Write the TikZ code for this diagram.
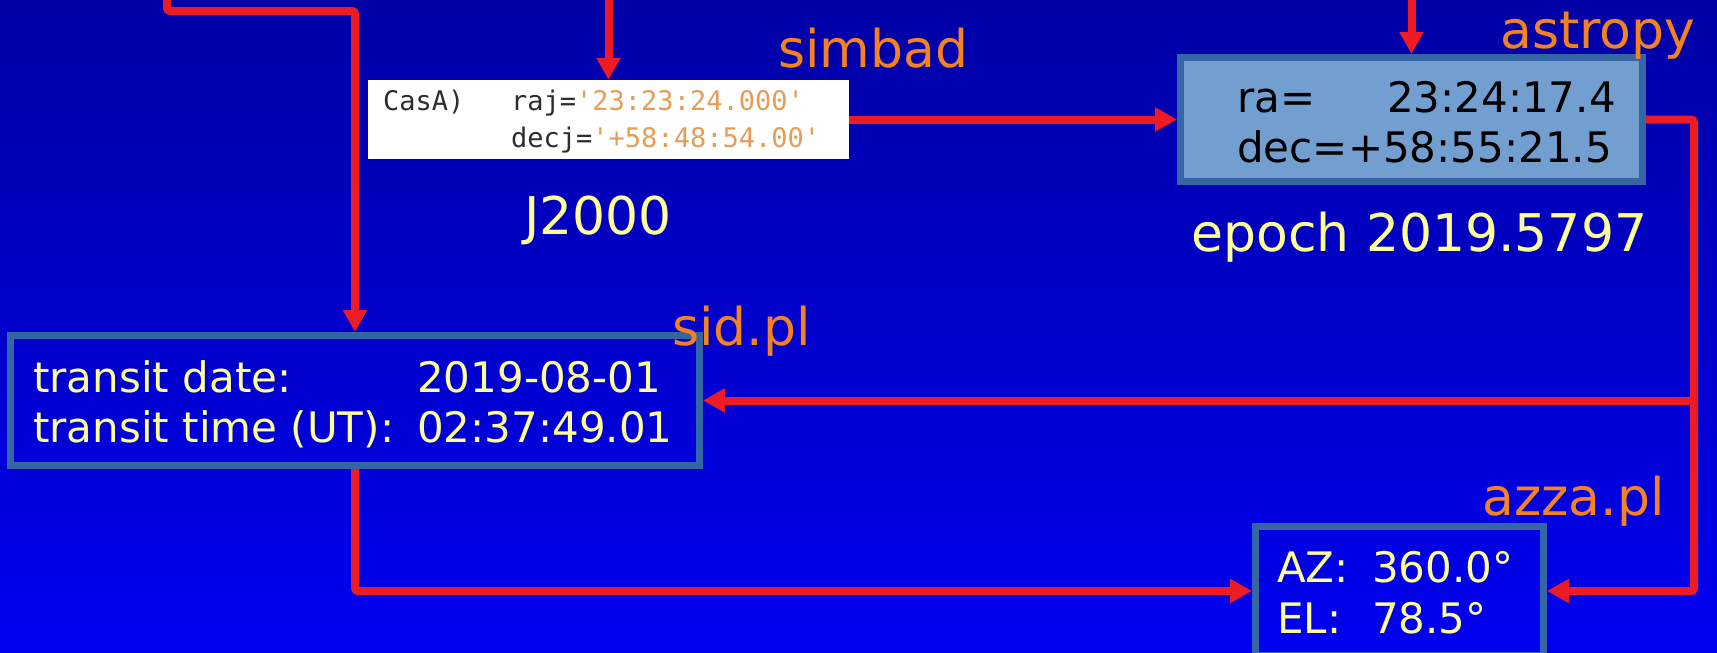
\documentclass[tikz,border=0pt]{standalone}
\usepackage{fontspec}
\setmainfont{DejaVu Sans}
\setmonofont{DejaVu Sans Mono}
\usetikzlibrary{
  arrows.meta,
  positioning
}
\definecolor{bgtop}{RGB}{0,0,165}
\definecolor{bgbot}{RGB}{0,0,240}
\definecolor{flowred}{RGB}{237,28,36}
\definecolor{boxline}{RGB}{52,101,164}
\definecolor{boxfill}{RGB}{114,159,207}
\definecolor{toolorange}{RGB}{245,130,32}
\definecolor{noteyellow}{RGB}{255,255,153}
\definecolor{codegray}{RGB}{45,45,45}
\definecolor{codestr}{RGB}{228,158,88}

\begin{document}
\begin{tikzpicture}[x=1pt,y=-1pt,
      databox/.style={
         rectangle,
         line width=7pt,
         draw=boxline,
         inner sep=0pt,
      },
      boxtext/.style={
         anchor=base west,
         inner sep=0pt,
         font=\fontsize{42}{50}\selectfont,
      },
      tool/.style={
         anchor=base west,
         inner sep=0pt,
         text=toolorange,
         font=\fontsize{52}{62}\selectfont,
      },
      note/.style={
         anchor=base west,
         inner sep=0pt,
         text=noteyellow,
         font=\fontsize{52}{62}\selectfont,
      },
      code/.style={
         anchor=base west,
         inner sep=0pt,
         text=codegray,
         font=\ttfamily\fontsize{27}{32}\selectfont,
      },
      flow/.style={-{Triangle[length=22pt,width=23pt]},draw=flowred,line width=8pt,rounded corners=3pt},
    ]
  \useasboundingbox (0,0) rectangle (1717,653);
  \shade[top color=bgtop,bottom color=bgbot] (0,0) rectangle (1717,653);

  % boxes
  \node[rectangle, fill=white, inner sep=0pt, minimum width=481pt, minimum height=79pt] (simbad) at (608.5,119.5) {};
  \node[databox, fill=boxfill, minimum width=462pt, minimum height=124pt] (astro) at (1411.5,119.5) {};
  \node[databox, minimum width=689pt, minimum height=130pt] (transit) at (355,400.5) {};
  \node[databox, minimum width=288pt, minimum height=129pt] (azza) at (1399.5,591) {};

  % box contents
  \node[code] (casa) at (383,110) {CasA)};
  \node[code] (raj) at (511,110) {raj=\textcolor{codestr}{'23:23:24.000'}};
  \node[code] (decj) at (511,147) {decj=\textcolor{codestr}{'+58:48:54.00'}};

  \node[boxtext] (ra) at (1237,112) {ra=};
  \node[boxtext, anchor=base east] (raval) at (1616,112) {23:24:17.4};
  \node[boxtext] (dec) at (1237,162) {dec=+58:55:21.5};

  \node[boxtext, text=noteyellow] (tdate) at (33,392) {transit date:};
  \node[boxtext, text=noteyellow] (tdateval) at (417,392) {2019-08-01};
  \node[boxtext, text=noteyellow] (ttime) at (33,442) {transit time (UT):};
  \node[boxtext, text=noteyellow] (ttimeval) at (417,442) {02:37:49.01};

  \node[boxtext, text=noteyellow] (az) at (1277,582) {AZ:};
  \node[boxtext, text=noteyellow] (azval) at (1372,582) {360.0°};
  \node[boxtext, text=noteyellow] (el) at (1277,633) {EL:};
  \node[boxtext, text=noteyellow] (elval) at (1372,633) {78.5°};

  % labels
  \node[tool] (simbadlbl) at (778,67) {simbad};
  \node[tool] (astrolbl) at (1500,48) {astropy};
  \node[tool] (sidlbl) at (672,345) {sid.pl};
  \node[tool] (azzalbl) at (1482,515) {azza.pl};
  \node[note] (j2000) at (524,234) {J2000};
  \node[note] (epoch) at (1191,251) {epoch 2019.5797};

  % connectors
  \coordinate (tl) at (167,0);
  \coordinate (tm) at (608.5,0);
  \coordinate (tr) at (1411.5,0);
  \coordinate (rbend) at (1694,119.5);
  \draw[flow] (tl) -- ++(0,11) -| (transit.north);
  \draw[flow] (tm) -- (simbad.north);
  \draw[flow] (tr) -- (astro.north);
  \draw[flow] (simbad.east) -- (astro.west);
  \draw[flow] (astro.east) -- (rbend) |- (azza.east);
  \draw[flow] (rbend |- transit.east) -- (transit.east);
  \draw[flow] (transit.south) |- (azza.west);
\end{tikzpicture}
\end{document}
